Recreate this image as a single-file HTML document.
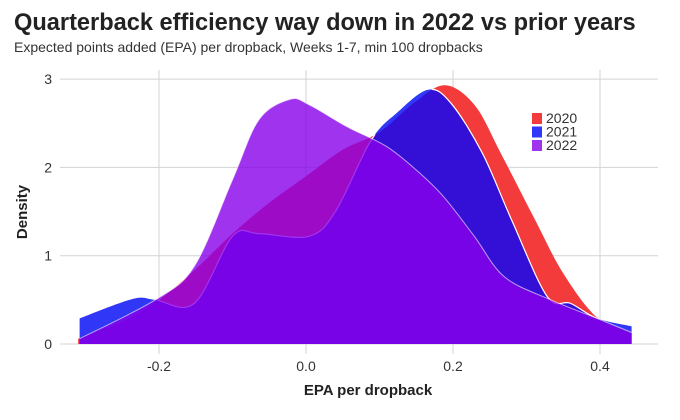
<!DOCTYPE html>
<html><head><meta charset="utf-8"><style>
body{margin:0;background:#fff;font-family:"Liberation Sans",Arial,sans-serif}
#wrap{position:relative;width:680px;height:420px;overflow:hidden}
</style></head><body>
<div id="wrap">
<svg id="svg" width="680" height="420" xmlns="http://www.w3.org/2000/svg">
<text x="14" y="30" font-size="23.6" font-weight="bold" fill="#222">Quarterback efficiency way down in 2022 vs prior years</text>
<text x="14" y="52" font-size="14" fill="#333">Expected points added (EPA) per dropback, Weeks 1-7, min 100 dropbacks</text>
<g id="grid"></g>
<g id="areas"></g>
<g id="legend"></g>
<text transform="translate(27,212) rotate(-90)" text-anchor="middle" font-size="15" font-weight="bold" fill="#222">Density</text>
<text x="368" y="395" text-anchor="middle" font-size="15" font-weight="bold" fill="#222">EPA per dropback</text>
</svg></div>
<script>
const xTicks=[-0.2,0,0.2,0.4];
const xTickLabels=["-0.2","0.0","0.2","0.4"];
const yTicks=[0,1,2,3];
const years=["2020","2021","2022"];
const epa2020=[-0.31,-0.25,-0.2,-0.15,-0.1,-0.05,0,0.05,0.1,0.15,0.19,0.23,0.265,0.312,0.35,0.396,0.443];
const dens2020=[0.06,0.25,0.5,0.85,1.25,1.6,1.9,2.2,2.4,2.75,2.93,2.7,2.16,1.4,0.8,0.3,0.13];
const epa2021=[-0.308,-0.236,-0.205,-0.152,-0.1,-0.064,0.004,0.04,0.088,0.124,0.166,0.197,0.24,0.28,0.328,0.36,0.396,0.443];
const dens2021=[0.29,0.51,0.5,0.46,1.22,1.25,1.22,1.5,2.3,2.62,2.88,2.73,2.16,1.4,0.54,0.46,0.29,0.2];
const epa2022=[-0.308,-0.205,-0.152,-0.1,-0.064,-0.022,0.004,0.056,0.109,0.15,0.187,0.229,0.27,0.333,0.396,0.443];
const dens2022=[0.06,0.5,0.88,1.86,2.54,2.77,2.71,2.46,2.24,1.97,1.67,1.22,0.76,0.5,0.29,0.13];
const X=v=>306+v*735, Y=d=>344-d*88.3;
const NS="http://www.w3.org/2000/svg";
function mk(t,a,p){const e=document.createElementNS(NS,t);for(const k in a)e.setAttribute(k,a[k]);p.appendChild(e);return e;}
const grid=document.getElementById('grid');
yTicks.forEach(t=>{
 const l=mk('line',{x1:60,x2:658,y1:Y(t),y2:Y(t),stroke:'#d3d3d3','stroke-width':1},grid);
 
 
 const tx=mk('text',{x:52,y:Y(t)+5,'text-anchor':'end','font-size':14,fill:'#333'},grid);
 tx.textContent=t;
 
 
});
xTicks.forEach((t,i)=>{
 const l=mk('line',{x1:X(t),x2:X(t),y1:70,y2:354,stroke:'#d3d3d3','stroke-width':1},grid);
 
 
 const tx=mk('text',{x:X(t),y:371,'text-anchor':'middle','font-size':14,fill:'#333'},grid);
 tx.textContent=xTickLabels[i];
 
 
});
function curve(xs,ys){
 const p=xs.map((x,i)=>[X(x),Y(ys[i])]);
 let d=`M${p[0][0]},${p[0][1]}`;
 for(let i=0;i<p.length-1;i++){
  const p0=p[i-1]||p[i],p1=p[i],p2=p[i+1],p3=p[i+2]||p2;
  const c1=[p1[0]+(p2[0]-p0[0])/6,p1[1]+(p2[1]-p0[1])/6];
  const c2=[p2[0]-(p3[0]-p1[0])/6,p2[1]-(p3[1]-p1[1])/6];
  d+=` C${c1[0]},${c1[1]} ${c2[0]},${c2[1]} ${p2[0]},${p2[1]}`;
 }
 return d;
}
function area(xs,ys){return curve(xs,ys)+` L${X(xs[xs.length-1])},${Y(0)} L${X(xs[0])},${Y(0)} Z`;}
const A=document.getElementById('areas');
const defs=mk('defs',{},A);
const cp=mk('clipPath',{id:'c20'},defs);
mk('path',{d:area(epa2020,dens2020)},cp);
const a0=mk('path',{d:area(epa2020,dens2020),fill:'#f43b3b'},A);


const a1=mk('path',{d:area(epa2021,dens2021),fill:'#3037f7'},A);


const ov=mk('path',{d:area(epa2021,dens2021),fill:'#3410d6','clip-path':'url(#c20)'},A);


const s1=mk('path',{d:curve(epa2021,dens2021),fill:'none',stroke:'#fff','stroke-width':1.2,'clip-path':'url(#c20)'},A);


const a2=mk('path',{d:area(epa2022,dens2022),fill:'rgba(136,0,234,0.8)'},A);


const s2=mk('path',{d:curve(epa2022,dens2022),fill:'none',stroke:'rgba(255,255,255,0.6)','stroke-width':1},A);


const L=document.getElementById('legend');
const lc=['#f43b3b','#3037f7','#a033ee'];
years.forEach((y,i)=>{
 const r=mk('rect',{x:532,y:113+i*13.5,width:10,height:11,fill:lc[i]},L);
 
 
 const t=mk('text',{x:546,y:123+i*13.5,'font-size':14,fill:'#333'},L);
 t.textContent=y;
 
 
});
</script>
</body></html>
